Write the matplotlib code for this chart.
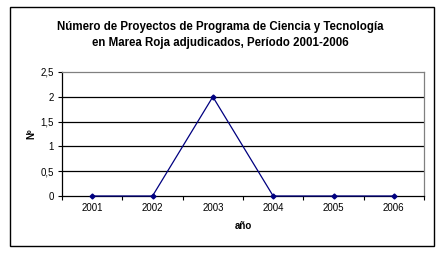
import matplotlib
matplotlib.use('Agg')
import matplotlib.pyplot as plt
from matplotlib.patches import Rectangle

plt.rcParams['font.family'] = ['Liberation Sans', 'DejaVu Sans']

# datos
anios = ['2001', '2002', '2003', '2004', '2005', '2006']
proyectos = [0, 0, 2, 0, 0, 0]
yticks = [0, 0.5, 1, 1.5, 2, 2.5]
ytick_labels = ['0', '0,5', '1', '1,5', '2', '2,5']

fig = plt.figure(figsize=(4.41, 2.54), dpi=100)
ax = fig.add_axes([62 / 441, 58 / 254, 362 / 441, 124 / 254])

x = list(range(len(anios)))
ax.plot(x, proyectos, color='#000080', linewidth=0.9, marker='D',
        markersize=2.5, zorder=3, clip_on=False)

ax.set_xlim(-0.5, len(anios) - 0.5)
ax.set_ylim(0, 2.5)

# lineas de division
for v in yticks[1:-1]:
    ax.axhline(v, color='black', linewidth=0.9, zorder=1)

ax.set_yticks(yticks)
ax.set_yticklabels(ytick_labels, fontsize=7)
ax.set_xticks([i + 0.5 for i in range(-1, len(anios))], minor=False)
ax.set_xticklabels([])
ax.set_xticks(x, minor=True)
ax.set_xticklabels(anios, minor=True, fontsize=7)
ax.tick_params(axis='x', which='major', length=3, width=0.8, direction='out')
ax.tick_params(axis='x', which='minor', length=0, pad=5)
ax.tick_params(axis='y', length=3, width=0.8, direction='out', pad=3)

ax.spines['left'].set_color('black')
ax.spines['bottom'].set_color('black')
ax.spines['top'].set_color('#808080')
ax.spines['right'].set_color('#808080')
for s in ax.spines.values():
    s.set_linewidth(0.9)

ax.set_xlabel('año', fontsize=7, fontweight='bold', labelpad=6)
ax.set_ylabel('Nº', fontsize=7, fontweight='bold', labelpad=3)

fig.text(220 / 441, 1 - 35 / 254,
         'Número de Proyectos de Programa de Ciencia y Tecnología\n'
         'en Marea Roja adjudicados, Período 2001-2006',
         ha='center', va='center', fontsize=8.3, fontweight='bold',
         linespacing=1.45)

fig.patches.append(Rectangle((10 / 441, 8 / 254), 424 / 441, 239 / 254,
                             transform=fig.transFigure, fill=False,
                             edgecolor='black', linewidth=1.0))

fig.savefig('out.png', dpi=100)
